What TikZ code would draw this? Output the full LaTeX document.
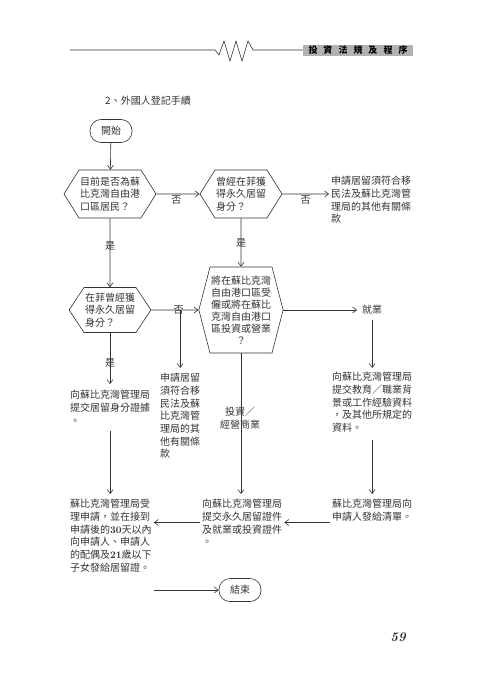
\documentclass[tikz,border=0pt]{standalone}
\usepackage{fontspec}
\newfontfamily\cjk{Noto Sans CJK TC}
\usetikzlibrary{shapes.symbols, arrows.meta}

\tikzset{
  >={Straight Barb[length=4pt,width=6pt]},
  line/.style={draw=black!80, line width=0.6pt},
  txt/.style={font=\cjk\fontsize{10}{12.7}\selectfont, text=black!80, align=left, inner sep=2pt},
  hexbox/.style={line, signal, signal to=west and east, signal pointer angle=#1, txt, inner sep=1pt},
  endbox/.style={line, rounded corners=11pt, minimum width=42pt, minimum height=23pt, txt}
}

\begin{document}
\begin{tikzpicture}[x=1pt, y=-1pt]
    \useasboundingbox (0,0) rectangle (480,679);
    % page head
    \draw[line] (70,50) -- (215,50) -- (219,55) -- (224,41) -- (230,61) -- (236,41) -- (242,61) -- (248,41) -- (253,50) -- (303,50);
    \fill[black!30] (303,45) rectangle (413,56);
    \node[font=\cjk\bfseries\fontsize{9}{9}\selectfont, inner sep=0] (head) at (358,50.5)
        {投\hspace{6pt}資\hspace{6pt}法\hspace{6pt}規\hspace{6pt}及\hspace{6pt}程\hspace{6pt}序};
    \node[txt, anchor=west] (title) at (103,101) {2、外國人登記手續};

    % questions
    \node[endbox] (start) at (111,131) {開始};
    \node[hexbox=116, minimum width=80pt, minimum height=48pt] (q1) at (110,194) {目前是否為蘇\\比克灣自由港\\口區居民？};
    \node[hexbox=116, minimum width=82pt, minimum height=48pt] (q2) at (241,194) {曾經在菲獲\\得永久居留\\身分？};
    \node[hexbox=113, minimum width=80pt, minimum height=45pt] (q4) at (110,310) {在菲曾經獲\\得永久居留\\身分？};
    \node[hexbox=151, minimum width=78pt, minimum height=86pt, font=\cjk\fontsize{10}{12}\selectfont] (q3) at (241,310)
        {將在蘇比克灣\\自由港口區受\\僱或將在蘇比\\克灣自由港口\\區投資或營業\\\hspace*{25pt}？};

    % texts
    \node[txt, anchor=north west] (nofita) at (329,174) {申請居留須符合移\\民法及蘇比克灣管\\理局的其他有關條\\款};
    \node[txt, anchor=north west] (nofitb) at (158,371) {申請居留\\須符合移\\民法及蘇\\比克灣管\\理局的其\\他有關條\\款};
    \node[txt, anchor=north west] (proof) at (68,388) {向蘇比克灣管理局\\提交居留身分證據\\。};
    \node[txt, anchor=west] (job) at (360,310) {就業};
    \node[txt, anchor=north west] (jobdoc) at (330,370) {向蘇比克灣管理局\\提交教育／職業背\\景或工作經驗資料\\，及其他所規定的\\資料。};
    \node[txt, anchor=north west] (issue) at (68,497) {蘇比克灣管理局受\\理申請，並在接到\\申請後的{\rmfamily\bfseries 30}天以內\\向申請人、申請人\\的配偶及{\rmfamily\bfseries 21}歲以下\\子女發給居留證。};
    \node[txt, anchor=north west] (submit) at (200,497) {向蘇比克灣管理局\\提交永久居留證件\\及就業或投資證件\\。};
    \node[txt, anchor=north west] (list) at (330,497) {蘇比克灣管理局向\\申請人發給清單。};
    \node[endbox] (finish) at (240,590) {結束};
    \node[font=\rmfamily\bfseries\itshape\fontsize{13}{13}\selectfont, text=black!80] (page) at (398,637) {59};

    % connectors
    \draw[line,->] (start) -- (q1);
    \draw[line,->] (q1) -- node[txt, below, pos=.46, inner sep=1pt]{否} (q2);
    \draw[line,->] (q2) -- node[txt, below, pos=.5, inner sep=1pt]{否} (q2.east -| nofita.west);
    \draw[line,->] (q2) -- node[txt, pos=.5]{是} (q3);
    \draw[line,->] (q1) -- node[txt, pos=.4]{是} (q4);
    \draw[line,->] (q4) -- node[txt, pos=.58]{否} (q3);
    \draw[line,->, shorten >=3pt] (q4.east -| nofitb.north) -- (nofitb.north);
    \draw[line,->, shorten >=4pt] (q4.south) -- node[txt, pos=.54]{是} (q4.south |- proof.north);
    \draw[line,->, shorten <=5pt, shorten >=3pt] (proof.south) -- (proof.south |- issue.north);
    \draw[line,->, shorten >=3pt] (q3.south) -- (q3.south |- submit.north);
    \node[txt, align=center] (invest) at (240,418) {投資／\\經營商業};
    \draw[line,->, shorten >=3pt] (q3.east) -- (job.west);
    \draw[line,->, shorten <=3pt, shorten >=2pt] (job.south) -- (job.south |- jobdoc.north);
    \draw[line,->, shorten <=6pt, shorten >=3pt] (jobdoc.south -| job.south) -- (job.south |- list.north);
    \draw[line,->] (submit.east -| list.west) -- (submit.east);
    \draw[line,->] (submit.west) -- (submit.west -| issue.east);
    \draw[line,->] (finish.west -| issue.east) -- (finish.west);
\end{tikzpicture}
\end{document}
